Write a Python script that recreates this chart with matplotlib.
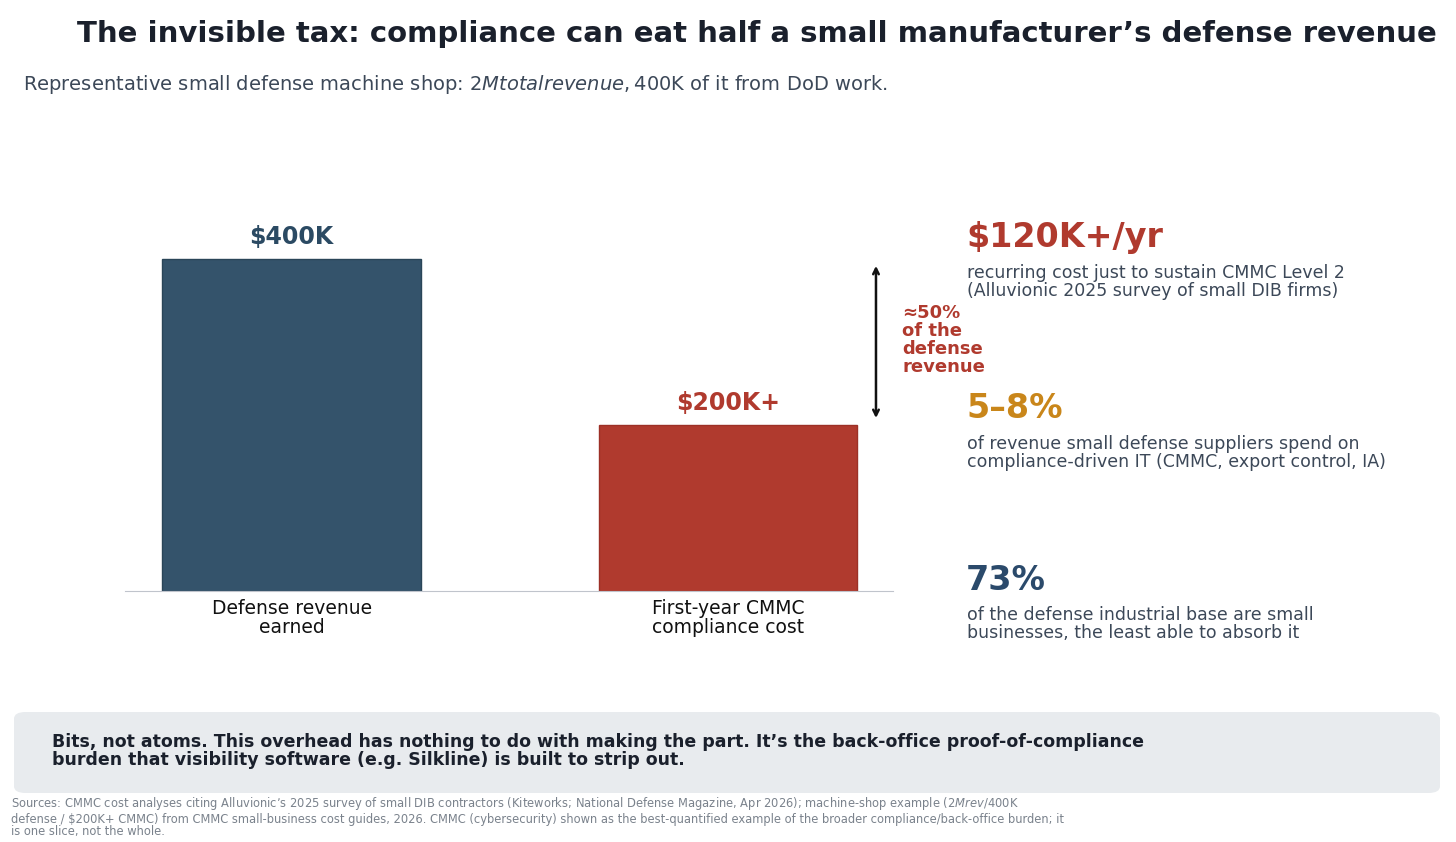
import matplotlib
matplotlib.use("Agg")
import matplotlib.pyplot as plt
from matplotlib.patches import FancyBboxPatch

categories = ["Defense revenue\nearned", "First-year CMMC\ncompliance cost"]
values = [400, 200]
value_labels = ["$400K", "$200K+"]
colors = ["#34536b", "#b03a2e"]

W, H = 1456, 842
fig = plt.figure(figsize=(W/100, H/100), dpi=100)
def fx(x): return x / W
def fy(y): return 1 - y / H

ax = fig.add_axes([fx(125), fy(591), fx(893) - fx(125), fy(200) - fy(591)])
ax.bar(range(2), values, width=0.593, color=colors, edgecolor=["#2a4558", "#9c3026"], linewidth=1)
ax.set_xlim(-0.382, 1.378)
ax.set_ylim(0, 471)
for s in ["top", "right", "left"]:
    ax.spines[s].set_visible(False)
ax.spines["bottom"].set_color("#c0c4cc")
ax.set_yticks([])
ax.set_xticks(range(2))
ax.set_xticklabels(categories, fontsize=13.5, color="#111111", linespacing=1.0)
ax.tick_params(axis="x", length=0, pad=6)
for i, (v, l) in enumerate(zip(values, value_labels)):
    ax.text(i, v + 12, l, ha="center", va="bottom", fontsize=17, fontweight="bold", color=colors[i] if i else "#2b4a63")
ax.annotate("", xy=(1.339, 395), xytext=(1.339, 205),
            arrowprops=dict(arrowstyle="<->", color="#111111", lw=1.8), annotation_clip=False)

fig.text(fx(902), fy(340), "≈50%\nof the\ndefense\nrevenue", fontsize=13, fontweight="bold",
         color="#b03a2e", va="center", ha="left", linespacing=1.0)

fig.text(0.52, fy(34), "The invisible tax: compliance can eat half a small manufacturer’s defense revenue",
         ha="center", va="center", fontsize=21, fontweight="bold", color="#1a202c")
fig.text(fx(23), fy(85), "Representative small defense machine shop: $2M total revenue, $400K of it from DoD work.",
         ha="left", va="center", fontsize=14, color="#3c4858")

stats = [("$120K+/yr", "#b03a2e", 238, "recurring cost just to sustain CMMC Level 2\n(Alluvionic 2025 survey of small DIB firms)"),
         ("5–8%", "#c9861a", 409, "of revenue small defense suppliers spend on\ncompliance-driven IT (CMMC, export control, IA)"),
         ("73%", "#2b4a6b", 580, "of the defense industrial base are small\nbusinesses, the least able to absorb it")]
for big, c, y, small in stats:
    fig.text(fx(966), fy(y), big, fontsize=24, fontweight="bold", color=c, va="center", ha="left")
    fig.text(fx(967), fy(262), "", fontsize=1)
    fig.text(fx(967), fy(y + 44), small, fontsize=12.5, color="#3c4858", va="center", ha="left", linespacing=1.05)

box = FancyBboxPatch((fx(14), fy(793)), fx(1440) - fx(14), fy(712) - fy(793),
                     boxstyle="round,pad=0,rounding_size=0.008", transform=fig.transFigure,
                     facecolor="#e8ebee", edgecolor="none")
fig.patches.append(box)
fig.text(fx(52), fy(751), "Bits, not atoms. This overhead has nothing to do with making the part. It’s the back-office proof-of-compliance\nburden that visibility software (e.g. Silkline) is built to strip out.",
         fontsize=12.5, fontweight="bold", color="#1a202c", va="center", ha="left", linespacing=1.05)
fig.text(fx(11), fy(817), "Sources: CMMC cost analyses citing Alluvionic’s 2025 survey of small DIB contractors (Kiteworks; National Defense Magazine, Apr 2026); machine-shop example ($2M rev / $400K\ndefense / $200K+ CMMC) from CMMC small-business cost guides, 2026. CMMC (cybersecurity) shown as the best-quantified example of the broader compliance/back-office burden; it\nis one slice, not the whole.",
         fontsize=8.3, color="#7a828c", va="center", ha="left", linespacing=1.0)

fig.savefig("out.png", dpi=100, facecolor="white")
